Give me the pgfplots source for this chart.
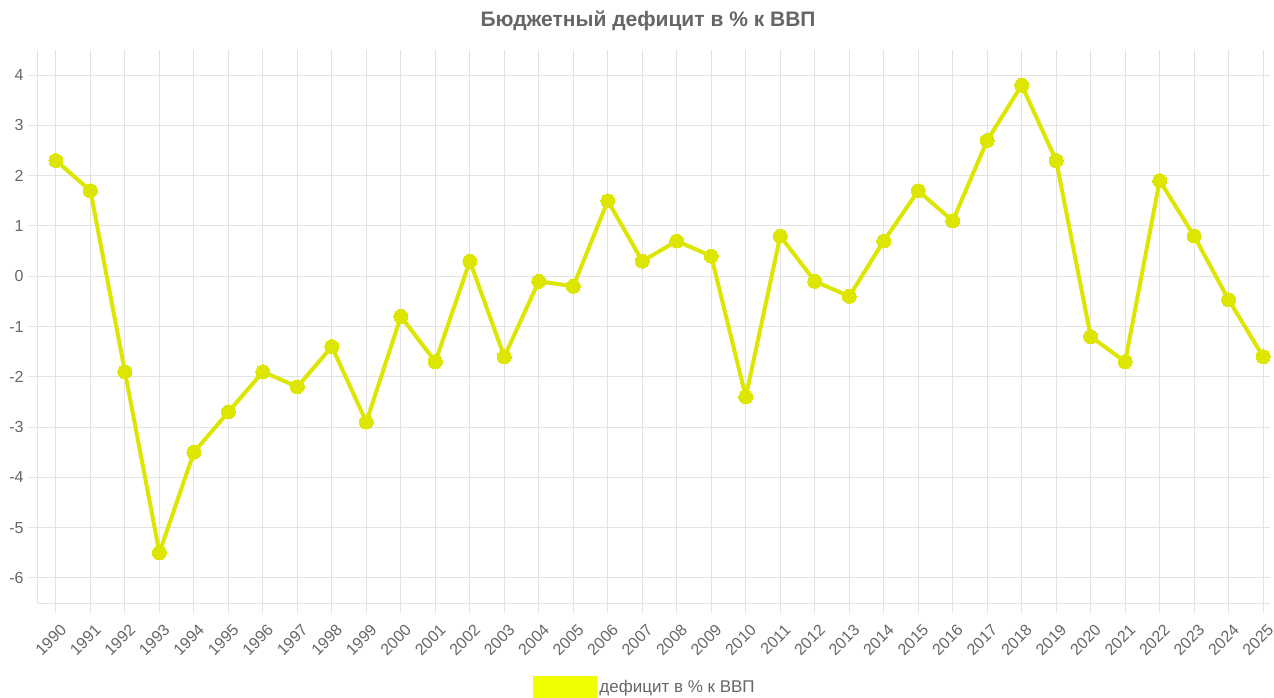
\documentclass[border=0pt]{standalone}
\usepackage{fontspec}
\setmainfont{Liberation Sans}
\usepackage{pgfplots}
\pgfplotsset{compat=1.18}

\definecolor{txt}{HTML}{666666}
\definecolor{gridc}{HTML}{E3E3E3}
\definecolor{linec}{RGB}{220,230,0}
\definecolor{legc}{RGB}{240,255,0}

\begin{document}
\begin{tikzpicture}
\useasboundingbox (-38pt,-94pt) rectangle (1236pt,603pt);
\begin{axis}[
    scale only axis,
    width=1232pt, height=553pt,
    xmin=1989.48, xmax=2025.2,
    ymin=-6.5, ymax=4.5,
    xtick={1990,...,2025},
    ytick={-6,...,4},
    yticklabels={-6,-5,-4,-3,-2,-1,0,1,2,3,4},
    grid=major,
    grid style={gridc, line width=1pt},
    axis x line*=bottom,
    axis y line*=left,
    axis line style={gridc, line width=1pt, -},
    tick align=outside,
    major tick length=10pt,
    tick style={gridc, line width=1pt},
    ticklabel style={font=\fontsize{16}{18}\selectfont, text=txt},
    /pgf/number format/assume math mode=true,
    /pgf/number format/1000 sep={},
    xticklabel style={xshift=10pt, yshift=-12pt, rotate=45, anchor=east},
    yticklabel style={xshift=-1pt},
    legend style={at={(0.4927,-0.152)}, anchor=center, draw=none, fill=none,
        font=\fontsize{17}{19}\selectfont, text=txt,
        legend cell align=left, inner sep=0pt,
        nodes={inner sep=2pt}},
    legend image code/.code={\fill[legc] (2pt,-9pt) rectangle (62pt,9pt);},
    clip=false,
]
\addplot[linec, line width=4pt, mark=*, mark size=7pt,
    mark options={fill=linec, draw=linec, line width=0pt}] coordinates {
(1990,2.3) (1991,1.7) (1992,-1.9) (1993,-5.5) (1994,-3.5) (1995,-2.7)
(1996,-1.9) (1997,-2.2) (1998,-1.4) (1999,-2.9) (2000,-0.8) (2001,-1.7)
(2002,0.3) (2003,-1.6) (2004,-0.1) (2005,-0.2) (2006,1.5) (2007,0.3)
(2008,0.7) (2009,0.4) (2010,-2.4) (2011,0.8) (2012,-0.1) (2013,-0.4)
(2014,0.7) (2015,1.7) (2016,1.1) (2017,2.7) (2018,3.8) (2019,2.3)
(2020,-1.2) (2021,-1.7) (2022,1.9) (2023,0.8) (2024,-0.47) (2025,-1.6)
};
\addlegendentry{дефицит в \% к ВВП}
\end{axis}
\node[text=txt, font=\bfseries\fontsize{21}{24}\selectfont] at (610pt,582pt) {Бюджетный дефицит в \% к ВВП};
\end{tikzpicture}
\end{document}
